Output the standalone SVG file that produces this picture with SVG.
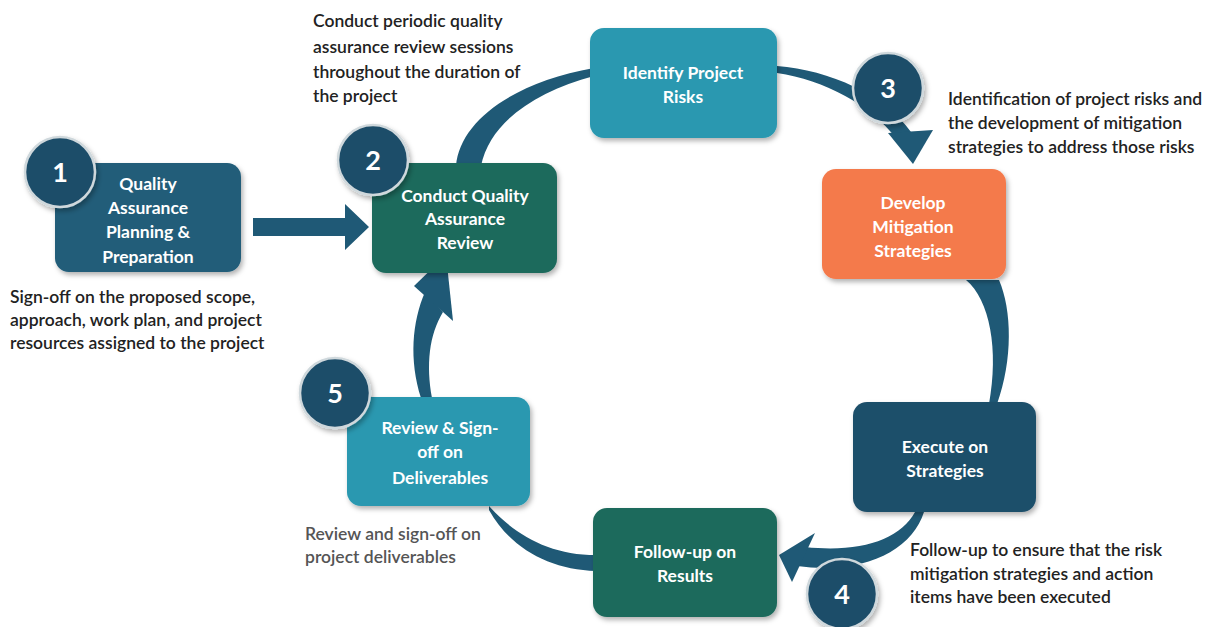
<svg xmlns="http://www.w3.org/2000/svg" width="1225" height="627" viewBox="0 0 1225 627">
  <style>
    .box { filter: url(#shadow); }
    .blue { fill: #205d79; }
    .navy { fill: #1f4f6a; }
    .green { fill: #1f6a5c; }
    .teal { fill: #2a98b0; }
    .orange { fill: #f47a4b; }
    .label { font-family: Lato, "Liberation Sans", sans-serif; font-weight: 700; font-size: 17.5px; fill: #ffffff; text-anchor: middle; }
    .num { font-family: Lato, "Liberation Sans", sans-serif; font-weight: 700; font-size: 27px; fill: #ffffff; text-anchor: middle; }
    .badge { fill: #1f4d69; stroke: #cfd8dc; stroke-width: 2.5; filter: url(#shadow); }
    .note { font-family: Lato, "Liberation Sans", sans-serif; font-weight: 600; font-size: 17.5px; fill: #222222; }
    .note.grey { fill: #555555; }
    .arrow { fill: #1f5976; }
  </style>
  <defs>
    <filter id="shadow" x="-20%" y="-20%" width="140%" height="150%">
      <feDropShadow dx="2" dy="3" stdDeviation="2.5" flood-color="#000000" flood-opacity="0.3"/>
    </filter>
  </defs>

  <rect width="1225" height="627" fill="#ffffff"/>

  <!-- connectors -->
  <g id="connectors">
    <!-- planning to review -->
    <path class="arrow" d="M253,218 L345,218 L345,204 L369,227 L345,250 L345,236 L253,236 Z"/>
    <!-- review up to identify risks -->
    <path class="arrow" d="M456,166 C 460,120 515,82 594,68 L 594,76 C 535,92 490,122 481,166 Z"/>
    <!-- identify risks to mitigation -->
    <path class="arrow" d="M777,66 C 830,70 885,95 911,132 L 896,138 C 870,105 825,80 777,73 Z"/>
    <path class="arrow" d="M888,133 L 933,130 L 913,164 Z"/>
    <!-- mitigation down to execute -->
    <path class="arrow" d="M966,280 C 990,300 999,350 989,404 L 997,404 C 1013,360 1012,310 999,280 Z"/>
    <!-- execute to follow-up -->
    <path class="arrow" d="M915,512 C 900,540 860,553 805,547 L 797,566 C 865,575 912,550 924,512 Z"/>
    <path class="arrow" d="M815,533 L 779,555 L 792,582 Z"/>
    <!-- deliverables to follow-up -->
    <path class="arrow" d="M489,506 C 515,535 550,555 596,555 L 596,571 C 550,570 510,548 489,510 Z"/>
    <!-- deliverables up to review -->
    <path class="arrow" d="M421,398 C 409,360 412,322 425,292 L 443,312 C 429,335 426,365 432,398 Z"/>
    <path class="arrow" d="M414,286 L 446,255 L 453,321 Z"/>
  </g>

  <!-- step 1 -->
  <g id="node-planning">
    <rect class="box blue" x="55" y="163" width="186" height="109" rx="14"/>
    <text class="label" x="148" y="190">Quality</text>
    <text class="label" x="148" y="214">Assurance</text>
    <text class="label" x="148" y="238">Planning &amp;</text>
    <text class="label" x="148" y="263">Preparation</text>
    <circle class="badge" cx="60" cy="172" r="35"/>
    <text class="num" x="60" y="182">1</text>
  </g>

  <!-- step 2 -->
  <g id="node-qa-review">
    <rect class="box green" x="372" y="163" width="185" height="110" rx="14"/>
    <text class="label" x="465" y="202">Conduct Quality</text>
    <text class="label" x="465" y="225">Assurance</text>
    <text class="label" x="465" y="249">Review</text>
    <circle class="badge" cx="373" cy="160" r="35"/>
    <text class="num" x="373" y="170">2</text>
  </g>

  <g id="node-identify">
    <rect class="box teal" x="590" y="28" width="187" height="110" rx="14"/>
    <text class="label" x="683" y="79">Identify Project</text>
    <text class="label" x="683" y="103">Risks</text>
  </g>

  <g id="badge-3">
    <circle class="badge" cx="888" cy="88" r="35"/>
    <text class="num" x="888" y="98">3</text>
  </g>

  <g id="node-mitigation">
    <rect class="box orange" x="822" y="169" width="184" height="110" rx="14"/>
    <text class="label" x="913" y="209">Develop</text>
    <text class="label" x="913" y="233">Mitigation</text>
    <text class="label" x="913" y="257">Strategies</text>
  </g>

  <g id="node-execute">
    <rect class="box navy" x="853" y="402" width="183" height="110" rx="14"/>
    <text class="label" x="945" y="453">Execute on</text>
    <text class="label" x="945" y="477">Strategies</text>
  </g>

  <g id="node-follow-up">
    <rect class="box green" x="593" y="508" width="184" height="109" rx="14"/>
    <text class="label" x="685" y="558">Follow-up on</text>
    <text class="label" x="685" y="582">Results</text>
  </g>

  <g id="badge-4">
    <circle class="badge" cx="842" cy="594" r="35"/>
    <text class="num" x="842" y="604">4</text>
  </g>

  <!-- step 5 -->
  <g id="node-deliverables">
    <rect class="box teal" x="347" y="397" width="183" height="109" rx="14"/>
    <text class="label" x="440" y="434">Review &amp; Sign-</text>
    <text class="label" x="440" y="458">off on</text>
    <text class="label" x="440" y="484">Deliverables</text>
    <circle class="badge" cx="335" cy="393" r="35"/>
    <text class="num" x="335" y="403">5</text>
  </g>

  <!-- descriptions -->
  <g id="notes">
    <text class="note" x="10" y="303">Sign-off on the proposed scope,</text>
    <text class="note" x="10" y="326">approach, work plan, and project</text>
    <text class="note" x="10" y="349">resources assigned to the project</text>

    <text class="note" x="313" y="27">Conduct periodic quality</text>
    <text class="note" x="313" y="53">assurance review sessions</text>
    <text class="note" x="313" y="78">throughout the duration of</text>
    <text class="note" x="313" y="102">the project</text>

    <text class="note" x="948" y="105">Identification of project risks and</text>
    <text class="note" x="948" y="129">the development of mitigation</text>
    <text class="note" x="948" y="153">strategies to address those risks</text>

    <text class="note grey" x="305" y="540">Review and sign-off on</text>
    <text class="note grey" x="305" y="563">project deliverables</text>

    <text class="note" x="910" y="556">Follow-up to ensure that the risk</text>
    <text class="note" x="910" y="580">mitigation strategies and action</text>
    <text class="note" x="910" y="603">items have been executed</text>
  </g>
</svg>
